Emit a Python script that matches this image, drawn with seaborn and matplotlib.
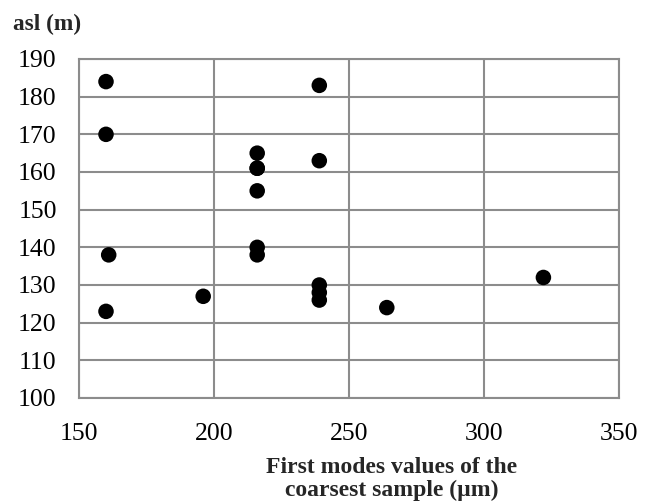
import numpy as np
import pandas as pd
import seaborn as sns
import matplotlib.pyplot as plt

# first mode of the coarsest sample (um) vs altitude above sea level (m)
first_mode = [160, 160, 161, 160, 196, 216, 216, 216, 216, 216, 216,
              239, 239, 239, 239, 239, 264, 322]
asl = [184, 170, 138, 123, 127, 165, 161, 161, 155, 140, 138,
       183, 163, 130, 128, 126, 124, 132]

x_ticks = [150, 200, 250, 300, 350]
y_ticks = [100, 110, 120, 130, 140, 150, 160, 170, 180, 190]

df = pd.DataFrame({'first_mode': first_mode, 'asl': asl})

sns.set_theme(style='white')
plt.rcParams['font.family'] = ['Liberation Serif', 'DejaVu Serif']

fig = plt.figure(figsize=(6.54, 5.04), dpi=100)
ax = fig.add_axes([79 / 654, 1 - 398 / 504, 540 / 654, 339 / 504])

sns.scatterplot(data=df, x='first_mode', y='asl', color='black', s=125,
                edgecolor='none', ax=ax, zorder=3)

ax.set_xlim(150, 350)
ax.set_ylim(100, 190)
ax.set_xticks(x_ticks)
ax.set_yticks(y_ticks)
ax.tick_params(axis='both', labelsize=18.5, length=0, colors='black')
ax.tick_params(axis='x', pad=18)
ax.tick_params(axis='y', pad=16)
ax.grid(True, color='#8c8c8c', linewidth=1.5)
ax.set_axisbelow(True)
for sp in ax.spines.values():
    sp.set_color('#8c8c8c')
    sp.set_linewidth(1.5)

ax.set_xlabel('')
ax.set_ylabel('')
fig.text(392 / 654, 1 - 479 / 504, 'First modes values of the\ncoarsest sample (\u00b5m)',
         ha='center', va='center', fontsize=17, fontweight='bold', linespacing=1.15)
fig.text(13 / 654, 1 - 24 / 504, 'asl (m)', ha='left', va='center',
         fontsize=16.8, fontweight='bold')

fig.savefig('out.png', dpi=100)
